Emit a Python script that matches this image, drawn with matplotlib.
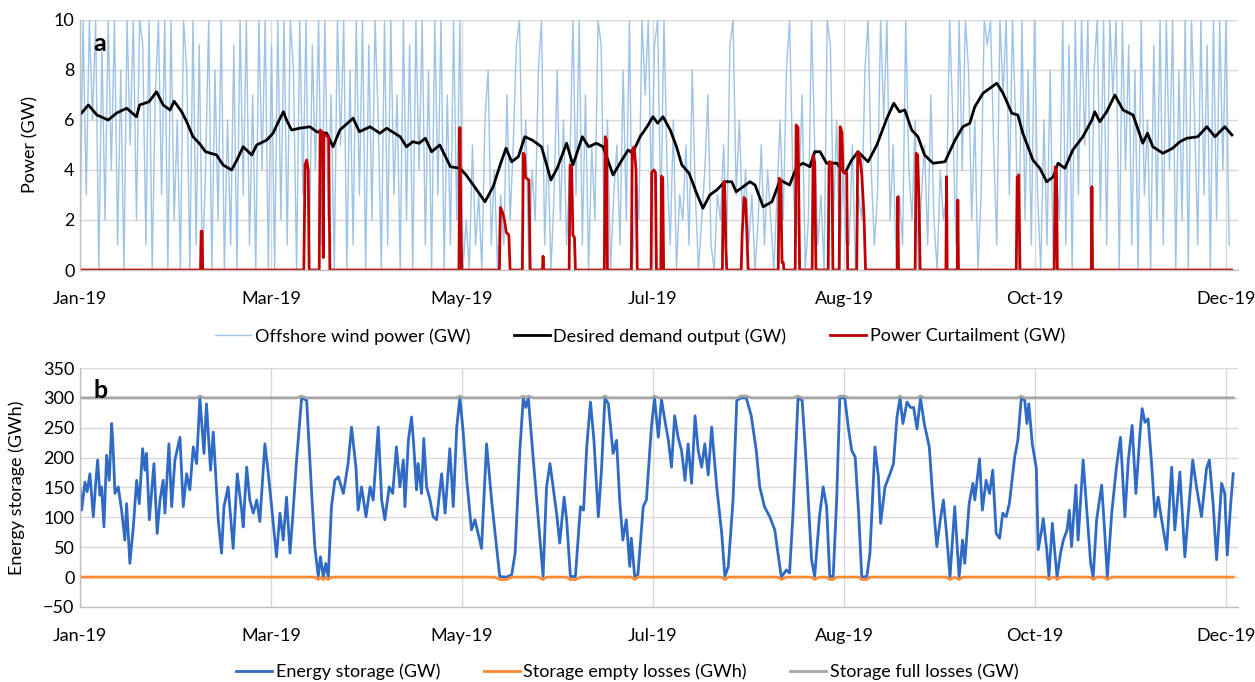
import numpy as np
import matplotlib
matplotlib.use("Agg")
import matplotlib.pyplot as plt

plt.rcParams["font.family"] = ["Lato", "DejaVu Sans"]

# x axis: day of year, ticks every sixth of the year
tick_labels = ["Jan-19", "Mar-19", "May-19", "Jul-19", "Aug-19", "Oct-19", "Dec-19"]

# offshore wind power (GW), one value per day, days 0..366
wind_gw = [
    1, 10, 3, 10, 6, 10, 0, 9, 2, 10, 4, 10, 1, 8, 0, 10, 5, 10, 2, 10, 9, 1, 10, 0, 7, 10, 3, 10, 0, 10, 2,
    6, 0, 10, 8, 0, 10, 1, 9, 0, 4, 10, 0, 8, 2, 10, 0, 6, 1, 9, 0, 10, 3, 10, 1, 7, 0, 10, 4, 10, 0, 9,
    0, 10, 2, 10, 1, 10, 8, 0, 10, 3, 10, 0, 9, 4, 10, 1, 10, 2, 7, 0, 10, 5, 10, 0, 8, 1, 10, 3, 10,
    0, 9, 2, 10, 6, 0, 10, 1, 10, 3, 7, 0, 10, 2, 9, 0, 10, 4, 10, 1, 8, 0, 10, 3, 10, 0, 7, 1, 10, 2, 10, 0,
    2, 0, 5, 1, 3, 0, 6, 8, 1, 4, 0, 3, 1, 7, 2, 5, 9, 10, 3, 6, 0, 4, 2, 8, 10, 1, 5, 0, 3, 8, 2,
    6, 1, 4, 10, 3, 10, 1, 7, 0, 5, 2, 10, 9, 1, 6, 0, 3, 5, 1, 8, 2, 10, 0, 4, 2, 10, 7, 10, 3, 9,
    10, 2, 10, 4, 1, 6, 0, 3, 2, 5, 1, 8, 3, 0, 2, 4, 7, 1, 0, 3, 2, 5, 1, 9, 10, 3, 6, 2, 4, 1,
    3, 0, 2, 5, 1, 4, 2, 0, 3, 6, 2, 8, 10, 4, 1, 3, 7, 0, 2, 10, 5, 1, 3, 0, 10, 9, 2, 6, 0, 4, 1,
    1, 5, 0, 3, 2, 8, 10, 4, 1, 3, 10, 6, 10, 2, 5, 0, 3, 1, 10, 4, 2, 6, 0, 3, 5, 1, 7, 2, 0, 4,
    2, 3, 10, 6, 1, 10, 4, 10, 8, 2, 6, 0, 3, 10, 9, 10, 5, 1, 10, 7, 10, 3, 10, 6, 0, 10, 2, 8, 1, 10, 3,
    0, 6, 1, 8, 0, 4, 2, 10, 1, 9, 0, 10, 3, 10, 5, 10, 0, 8, 10, 2, 10, 1, 10, 7, 10, 0, 10, 4, 9, 1,
    8, 0, 10, 3, 6, 0, 9, 2, 10, 1, 10, 4, 10, 0, 8, 2, 10, 0, 10, 6, 1, 10, 3, 9, 0, 10, 2, 10, 4, 10, 1,
]

# desired demand output (GW)
demand_day = [
    0.5, 2.7, 5.4, 9, 11.7, 14.9, 18, 19, 22, 24.4, 26.5, 28.7, 30, 32.4, 34, 36, 38, 40, 43.5, 45.6,
    48.3, 50, 52, 54.7, 56.3, 59.5, 61.5, 63.2, 64.8, 65.8, 67.4, 70, 73.2, 75.4, 78.6, 80.6, 82.8, 87,
    89, 92.4, 95.5, 97.7, 102, 104, 106, 108, 110, 112, 114.6, 118, 121, 123, 126, 129, 131.6, 134,
    135.7, 137.5, 139.6, 141.7, 144, 147, 150, 152, 155, 157, 160, 162, 164.5, 166.6, 169.8, 172.6,
    174.6, 176, 178.4, 180.6, 182.5, 184, 185.7, 188, 190, 191.7, 194, 196.4, 198.4, 200.6, 202.8,
    205.4, 207.6, 209, 213.4, 215, 217.6, 220.4, 223, 226, 228.3, 230.3, 232.5, 234, 235.7, 237.8, 241,
    243.6, 245.8, 247.8, 251, 253.8, 257, 259.2, 261, 262.7, 264.9, 266.9, 269, 271.7, 275.5, 278.7,
    281.2, 283.4, 285, 287.6, 289.8, 292, 294, 296.8, 298.7, 300.3, 303.5, 305.7, 307.9, 310, 311.5,
    313.7, 316.2, 319.4, 322.3, 323.2, 324.8, 327, 329.6, 332.2, 335.4, 338.5, 340, 341.7, 344.9, 348,
    350.3, 352.5, 356, 358.9, 361.5, 364.6, 366.9,
]
demand_gw = [
    6.28, 6.6, 6.2, 6.0, 6.28, 6.47, 6.13, 6.6, 6.73, 7.13, 6.6, 6.4, 6.75, 6.33, 5.93, 5.33, 5.07, 4.73,
    4.6, 4.2, 4.0, 4.4, 4.93, 4.6, 5.0, 5.2, 5.47, 5.93, 6.33, 6.0, 5.6, 5.67, 5.73, 5.53, 5.47, 4.93,
    5.6, 6.07, 5.53, 5.73, 5.47, 5.67, 5.33, 4.93, 5.13, 5.07, 5.27, 4.73, 5.0, 4.13, 4.07, 3.8, 3.27,
    2.73, 3.33, 4.27, 4.87, 4.33, 4.53, 5.33, 5.2, 4.93, 3.6, 4.07, 5.07, 4.2, 5.33, 4.93, 5.07, 4.93,
    3.8, 4.4, 4.8, 4.67, 5.33, 5.73, 6.13, 5.87, 6.13, 5.6, 4.93, 4.2, 3.87, 3.07, 2.47, 3.0, 3.2, 3.53,
    3.53, 3.13, 3.53, 3.4, 2.53, 2.73, 3.6, 3.4, 4.13, 4.27, 4.13, 4.73, 4.73, 4.27, 4.27, 3.87, 4.4,
    4.73, 4.33, 5.0, 6.07, 6.67, 6.33, 6.4, 5.6, 5.33, 4.6, 4.27, 4.33, 5.2, 5.73, 5.87, 6.53, 7.07,
    7.27, 7.47, 7.07, 6.27, 6.2, 5.47, 4.4, 4.07, 3.53, 3.73, 4.27, 4.07, 4.8, 5.33, 6.0, 6.33, 5.93,
    6.33, 7.0, 6.4, 6.2, 5.07, 5.47, 4.93, 4.67, 4.87, 5.13, 5.27, 5.33, 5.73, 5.33, 5.73, 5.4,
]

# power curtailment (GW)
curtail_day = [
    0, 38.4, 38.6, 38.9, 39.1, 71.3, 71.7, 72.2, 72.7, 73.0, 76.2, 76.5, 77.3, 77.5, 77.7, 78.3, 79.2, 79.6,
    120.7, 121.0, 121.3, 121.6, 133.6, 133.9, 134.6, 135.2, 135.8, 136.6, 137.0,
    140.9, 141.2, 141.6, 141.9, 143.0, 143.4, 147.3, 147.5, 147.7, 155.8, 156.1, 156.6, 157.0, 157.5, 157.8,
    167.0, 167.3, 167.7, 168.0, 175.6, 175.9, 176.5, 177.1, 177.5,
    181.9, 182.1, 182.8, 183.3, 183.6, 185.0, 185.2, 185.6, 185.9,
    204.6, 204.9, 205.3, 205.7, 206.0, 210.6, 210.9, 211.5, 212.0, 212.4, 212.8,
    222.4, 222.7, 223.2, 223.6, 224.0, 224.2, 227.8, 228.1, 228.7, 229.2, 233.2, 233.5, 234.0, 234.4,
    238.3, 238.6, 239.5, 239.8, 241.8, 242.1, 242.7, 243.0, 243.3, 244.2, 244.5,
    247.4, 247.7, 248.3, 249.0, 249.7, 250.2, 260.3, 260.5, 260.7, 266.0, 266.3, 266.8, 267.2, 267.6,
    275.8, 276.0, 276.2, 279.4, 279.6, 279.8, 298.2, 298.5, 299.0, 299.4,
    310.3, 310.6, 311.0, 311.3, 322.1, 322.3, 322.5, 366.8,
]
curtail_gw = [
    0, 0, 1.55, 1.55, 0, 0, 4.2, 4.4, 4.0, 0, 0, 5.6, 5.5, 0.5, 5.4, 5.4, 5.3, 0,
    0, 5.7, 2.0, 0, 0, 2.5, 2.3, 2.0, 1.5, 1.4, 0,
    0, 4.67, 4.6, 3.7, 3.6, 0, 0, 0.55, 0, 0, 4.2, 4.1, 1.4, 1.3, 0,
    0, 5.33, 5.2, 0, 0, 4.8, 4.93, 4.0, 0,
    0, 3.9, 4.0, 3.9, 0, 0, 3.75, 3.7, 0,
    0, 3.5, 3.55, 1.0, 0, 0, 1.4, 2.9, 2.8, 1.5, 0,
    0, 3.67, 3.6, 0.3, 0.3, 0, 0, 5.8, 5.7, 0, 0, 4.6, 4.3, 0,
    0, 4.33, 4.3, 0, 0, 5.73, 5.5, 4.0, 3.9, 3.9, 0,
    0, 4.73, 4.6, 3.8, 2.2, 0, 0, 2.93, 0, 0, 4.67, 4.6, 2.8, 0,
    0, 3.73, 0, 0, 2.8, 0, 0, 3.7, 3.8, 0,
    0, 4.13, 4.0, 0, 0, 3.33, 0, 0,
]

# energy storage (GWh)
storage_day = [
    0.0, 0.53, 1.59, 2.3, 3.18, 4.25, 5.1, 5.63, 6.37, 6.9, 7.64, 8.49, 9.34, 10.1, 10.6, 11.15, 12.2,
    13.27, 14.3, 14.86, 15.9, 17.0, 18.05, 18.9, 19.96, 20.7, 21.2, 22.1, 23.57, 24.6, 25.5, 26.5,
    27.07, 28.34, 29.2, 30.25, 31.85, 32.9, 33.97, 35.0, 36.1, 37.15, 38.2, 39.5, 40.3, 41.6, 42.46,
    44.05, 45.1, 45.86, 47.2, 48.8, 50.1, 51.5, 52.0, 53.1, 54.1, 55.2, 56.3, 57.3, 58.9, 60.0, 61.05,
    62.6, 63.7, 64.75, 65.8, 66.9, 67.7, 69.0, 70.6, 72.2, 73.8, 74.8, 75.9, 76.6, 77.5, 78.3, 79.1,
    80.1, 81.2, 82.3, 83.9, 85.4, 86.5, 87.9, 88.6, 89.7, 91.1, 92.4, 93.4, 95.0, 96.1, 97.1, 98.5,
    99.6, 100.8, 101.9, 103.0, 103.5, 104.6, 105.6, 106.2, 107.2, 107.7, 108.8, 109.5, 110.4, 111.5,
    112.5, 113.6, 115.2, 116.3, 117.8, 118.9, 120.0, 121.0, 122.0, 123.1, 124.7, 125.8, 126.8, 127.9,
    129.5, 131.1, 132.1, 133.7, 135.9, 137.5, 138.6, 140.1, 141.2, 142.0, 142.8, 144.4, 146.0, 147.5,
    148.6, 149.7, 150.7, 151.8, 152.8, 154.2, 155.0, 156.2, 157.8, 159.4, 160.4, 161.4, 162.6, 163.7,
    165.1, 166.1, 167.2, 168.3, 169.8, 170.9, 171.9, 172.9, 174.0, 175.1, 175.6, 176.7, 177.7, 179.4,
    180.4, 182.0, 183.0, 184.2, 185.2, 186.3, 187.4, 188.4, 189.4, 190.5, 191.6, 192.7, 193.7, 194.8,
    195.9, 196.9, 198.0, 199.0, 200.1, 201.2, 202.8, 204.4, 205.4, 206.5, 208.0, 209.2, 210.6, 212.2,
    213.8, 215.4, 216.5, 218.0, 219.7, 221.3, 222.3, 223.4, 225.0, 226.0, 227.1, 228.7, 230.0, 231.4,
    233.0, 234.0, 235.5, 236.7, 237.8, 238.8, 239.9, 241.0, 242.0, 243.6, 244.7, 245.8, 246.9, 248.0,
    249.0, 250.6, 251.6, 253.2, 254.3, 255.0, 256.4, 258.0, 259.1, 260.2, 261.2, 262.1, 263.4, 264.5,
    265.5, 266.6, 267.7, 268.9, 270.5, 271.6, 272.9, 274.0, 275.0, 276.0, 277.1, 278.6, 280.0, 281.1,
    281.8, 283.2, 284.4, 285.0, 286.5, 287.4, 288.6, 289.7, 290.7, 291.8, 292.9, 293.9, 295.0, 296.0,
    297.7, 298.7, 299.8, 300.9, 301.6, 302.2, 303.3, 304.6, 305.2, 306.3, 306.8, 307.9, 308.6, 309.7,
    310.5, 311.2, 312.3, 313.2, 314.4, 315.1, 315.8, 317.2, 317.9, 319.5, 320.8, 321.9, 322.7, 323.8,
    325.4, 326.4, 327.2, 328.6, 330.1, 331.4, 332.8, 333.9, 335.1, 336.3, 337.6, 338.3, 339.2, 340.2,
    341.3, 342.4, 343.4, 344.5, 346.1, 347.7, 348.7, 350.3, 351.9, 353.0, 354.4, 355.6, 357.2, 358.8,
    359.7, 360.9, 362.0, 363.6, 364.6, 365.4, 366.5, 367.3,
]
storage_gwh = [
    151, 112, 159, 143, 173, 101, 162, 196, 137, 151, 84, 204, 162, 257, 212, 140, 151,
    112, 62, 123, 23, 84, 162, 123, 215, 179, 207, 96, 190, 73, 129, 162,
    107, 223, 118, 196, 234, 118, 173, 146, 218, 190, 300, 207, 290, 179, 243,
    96, 40, 118, 151, 48, 173, 112, 84, 184, 129, 107, 129, 93, 223, 173, 118,
    34, 107, 62, 134, 40, 96, 196, 300, 296, 140, 51, 1, 34, 0, 23, 0,
    118, 162, 168, 140, 190, 251, 184, 112, 151, 101, 151, 129, 251, 129, 96, 151,
    140, 218, 151, 196, 118, 229, 268, 229, 146, 190, 140, 232, 151, 129,
    101, 96, 173, 107, 215, 118, 251, 300, 246, 168, 79, 96, 73, 48,
    223, 129, 79, 1, 0, 4, 40, 212, 300, 284, 300, 196, 96, 1,
    151, 190, 151, 107, 57, 134, 96, 1, 1, 118, 112, 218, 293, 229,
    101, 179, 300, 290, 207, 229, 129, 62, 96, 18, 65, 0, 4, 118,
    129, 251, 300, 234, 298, 262, 229, 184, 270, 234, 212, 162, 223, 157,
    270, 212, 184, 223, 171, 251, 151, 73, 1, 18, 129, 296, 300, 300,
    270, 212, 151, 118, 101, 79, 40, 0, 12, 7, 107, 300, 296, 184,
    29, 1, 100, 151, 118, 1, 1, 129, 300, 300, 251, 212, 201, 107,
    0, 1, 40, 218, 168, 90, 151, 173, 190, 268, 300, 257, 293, 284,
    284, 248, 300, 257, 218, 134, 51, 96, 129, 73, 0, 118, 0, 62,
    23, 123, 157, 129, 198, 112, 162, 140, 179, 73, 65, 107, 101, 123,
    201, 229, 300, 296, 257, 290, 223, 182, 46, 79, 98, 46, 1, 90,
    40, 0, 40, 62, 79, 112, 51, 154, 62, 196, 101, 23, 0, 96,
    154, 73, 0, 107, 184, 234, 101, 196, 254, 140, 240, 282, 259, 265,
    190, 101, 134, 96, 46, 184, 79, 176, 34, 107, 196, 151, 101, 182,
    196, 123, 29, 157, 140, 37, 123, 173,
]
storage_cap = 300


def style_axis(ax, ylim, yticks):
    ax.set_xlim(0, 368.8)
    ax.set_ylim(*ylim)
    ax.set_yticks(yticks)
    ax.set_xticks(np.linspace(0, 365, 7))
    ax.set_xticklabels(tick_labels)
    ax.grid(True, color="#D9D9D9", linewidth=1.0)
    ax.set_axisbelow(True)
    for side in ["top", "right"]:
        ax.spines[side].set_visible(False)
    for side in ["left", "bottom"]:
        ax.spines[side].set_color("#BFBFBF")
        ax.spines[side].set_linewidth(1.0)
    ax.tick_params(axis="both", length=0, labelsize=13, colors="#000000")
    ax.tick_params(axis="x", pad=15)
    ax.tick_params(axis="y", pad=4)


fig = plt.figure(figsize=(12.55, 6.82), dpi=100)

# panel a
ax1 = fig.add_axes([0.0637, 0.6041, 0.9227, 0.3666])
wind_day = np.arange(len(wind_gw))
ax1.plot(wind_day, wind_gw, color="#9DC3E6", linewidth=1.0, label="Offshore wind power (GW)")
ax1.plot(demand_day, demand_gw, color="#000000", linewidth=2.0, label="Desired demand output (GW)")
ax1.plot(curtail_day, curtail_gw, color="#C00000", linewidth=2.0, label="Power Curtailment (GW)")
style_axis(ax1, (0, 10), np.arange(0, 11, 2))
ax1.set_ylabel("Power (GW)", fontsize=13)
ax1.yaxis.set_label_coords(-0.036, 0.5)
ax1.text(0.012, 0.875, "a", transform=ax1.transAxes, fontsize=18, fontweight="bold")
fig.legend(*ax1.get_legend_handles_labels(), loc="center", bbox_to_anchor=(0.51, 0.507),
           ncol=3, frameon=False, fontsize=13, handlelength=2.0, columnspacing=2.4, handletextpad=0.2)

# panel b
ax2 = fig.add_axes([0.0637, 0.1100, 0.9227, 0.3504])
storage = np.array(storage_gwh, dtype=float)
empty = np.where(storage <= 1, -4.0, 0.0)
full = np.where(storage >= storage_cap, storage_cap + 3.0, float(storage_cap))
ax2.plot(storage_day, storage, color="#2F6AC4", linewidth=2.0, label="Energy storage (GW)")
ax2.plot(storage_day, empty, color="#FF8A33", linewidth=2.0, label="Storage empty losses (GWh)")
ax2.plot(storage_day, full, color="#A5A5A5", linewidth=2.0, label="Storage full losses (GW)")
style_axis(ax2, (-50, 350), np.arange(-50, 351, 50))
ax2.set_ylabel("Energy storage (GWh)", fontsize=13)
ax2.yaxis.set_label_coords(-0.0475, 0.5)
ax2.text(0.012, 0.875, "b", transform=ax2.transAxes, fontsize=18, fontweight="bold")
fig.legend(*ax2.get_legend_handles_labels(), loc="center", bbox_to_anchor=(0.50, 0.0147),
           ncol=3, frameon=False, fontsize=13, handlelength=2.0, columnspacing=2.4, handletextpad=0.2)

fig.savefig("out.png", dpi=100)
plt.close(fig)
